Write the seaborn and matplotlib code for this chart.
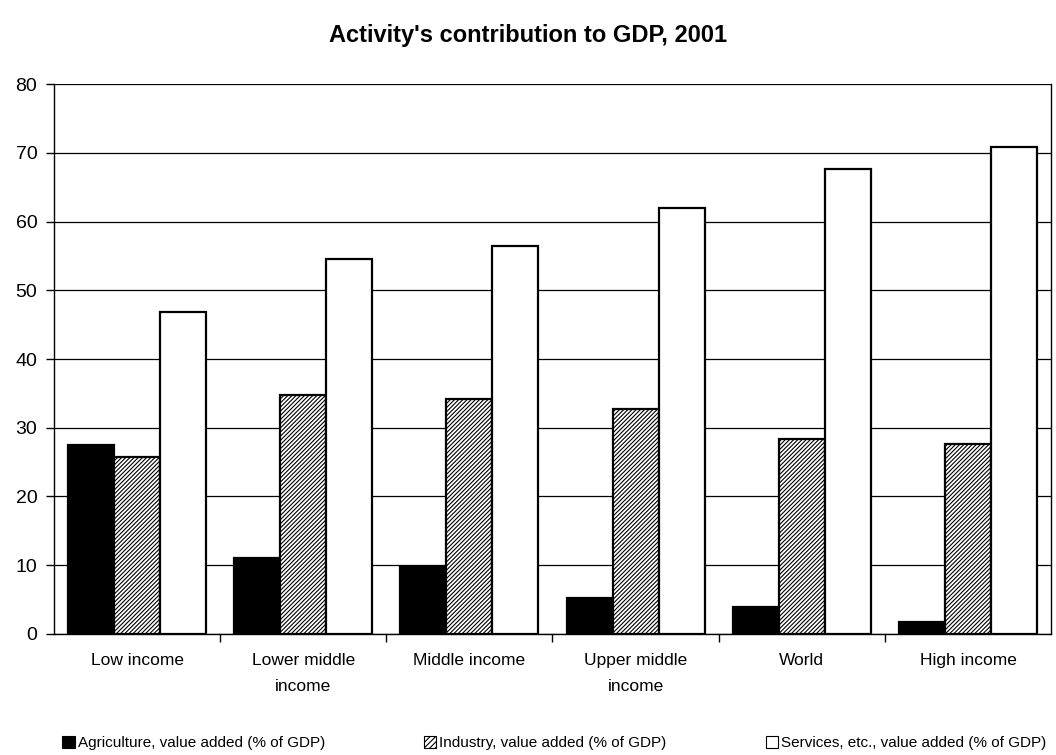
import numpy as np
import pandas as pd
import seaborn as sns
import matplotlib
matplotlib.use("Agg")
from matplotlib import pyplot as plt
from matplotlib.patches import Patch

# groups on the x axis
groups = ["Low income", "Lower middle\nincome", "Middle income",
          "Upper middle\nincome", "World", "High income"]

# values, % of GDP
agriculture = [27.5, 11.1, 9.7, 5.3, 3.9, 1.8]
industry = [25.8, 34.7, 34.2, 32.7, 28.3, 27.6]
services = [46.9, 54.5, 56.5, 62.0, 67.7, 70.9]

series = ["Agriculture, value added (% of GDP)",
          "Industry, value added (% of GDP)",
          "Services, etc., value added (% of GDP)"]

df = pd.DataFrame({
    "group": groups * 3,
    "sector": [series[0]] * 6 + [series[1]] * 6 + [series[2]] * 6,
    "value": agriculture + industry + services,
})

sns.set_style("white")
plt.rcParams["font.family"] = ["Liberation Sans", "DejaVu Sans"]
plt.rcParams["hatch.linewidth"] = 0.8
plt.rcParams["text.color"] = "black"
plt.rcParams["xtick.color"] = "black"
plt.rcParams["ytick.color"] = "black"

fig = plt.figure(figsize=(10.56, 7.55), dpi=100)
ax = fig.add_axes([0.0511, 0.1603, 0.9442, 0.7284])

sns.barplot(data=df, x="group", y="value", hue="sector", order=groups,
            hue_order=series, palette=["black", "white", "white"],
            edgecolor="black", linewidth=1.6, width=0.83, saturation=1,
            legend=False, ax=ax)

# hatch the industry bars
for bar in ax.containers[1]:
    bar.set_hatch("////////")

ax.set_ylim(0, 80)
ax.set_xlim(-0.5, 5.5)
ax.set_yticks(range(0, 81, 10))
ax.yaxis.grid(True, color="black", linewidth=0.9)
ax.set_axisbelow(True)
ax.set_xlabel("")
ax.set_ylabel("")

for side in ["left", "bottom", "right"]:
    ax.spines[side].set_visible(True)
    ax.spines[side].set_color("black")
    ax.spines[side].set_linewidth(1.0)
ax.spines["top"].set_visible(False)

ax.tick_params(axis="y", which="major", direction="out", length=6,
               width=1, labelsize=14, pad=6, left=True)
ax.tick_params(axis="x", which="major", length=0, labelsize=12.5, pad=14)
ax.set_xticks(np.arange(0.5, 5.0, 1.0), minor=True)
ax.tick_params(axis="x", which="minor", direction="out", length=6,
               width=1, bottom=True)
for lab in ax.get_xticklabels():
    lab.set_linespacing(1.9)

fig.suptitle("Activity's contribution to GDP, 2001", x=0.5, y=0.968,
             fontsize=17, fontweight="bold")

handles = [Patch(facecolor="black", edgecolor="black", linewidth=0.8),
           Patch(facecolor="white", edgecolor="black", hatch="//////", linewidth=0.8),
           Patch(facecolor="white", edgecolor="black", linewidth=0.8)]
fig.legend(handles, series, loc="lower center", bbox_to_anchor=(0.525, -0.012),
           ncol=3, frameon=False, fontsize=11, handlelength=0.8,
           handleheight=0.8, handletextpad=0.2, columnspacing=6.5)

fig.savefig("out.png", dpi=100)
